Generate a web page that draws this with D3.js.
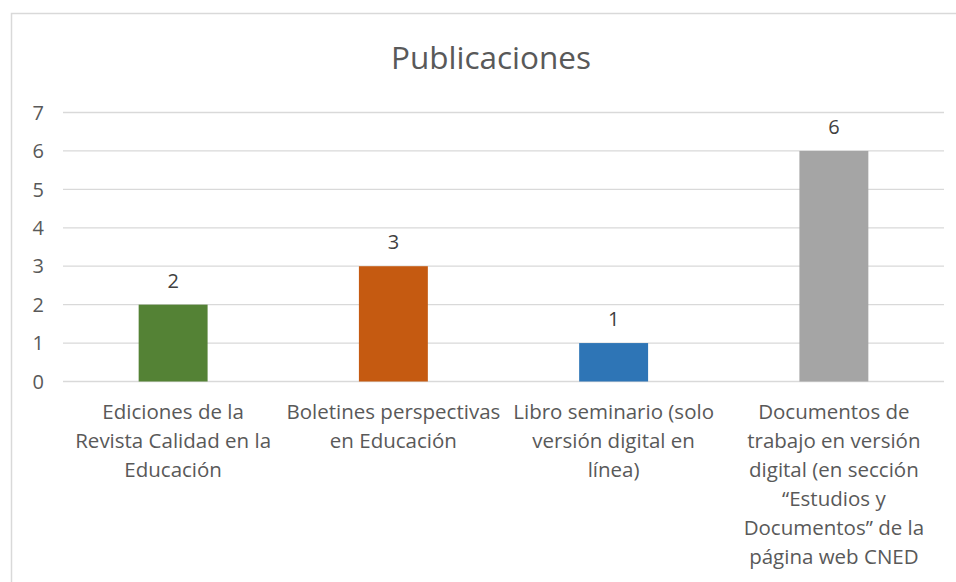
<!DOCTYPE html>
<html>
  <head>
    <meta charset="utf-8">
    <title>Publicaciones</title>
    <script type="text/javascript" src="https://d3js.org/d3.v7.min.js"></script>
    <style type="text/css">
      body { margin: 0; background: #fff; }
      text { font-family: "Open Sans", sans-serif; fill: #595959; }
    </style>
  </head>
  <body>
    <script type="text/javascript">
      // data
      var categories = [
        ["Ediciones de la", "Revista Calidad en la", "Educación"],
        ["Boletines perspectivas", "en Educación"],
        ["Libro seminario (solo", "versión digital en", "línea)"],
        ["Documentos de", "trabajo en versión", "digital (en sección", "\u201CEstudios y", "Documentos\u201D de la", "página web CNED"]
      ];
      var values = [2, 3, 1, 6];
      var colors = ["#548235", "#c55a11", "#2e75b6", "#a5a5a5"];
      var yTicks = [0, 1, 2, 3, 4, 5, 6, 7];

      var widthSVG = 956;
      var heightSVG = 582;
      var plotLeft = 63, plotRight = 944, plotTop = 112.5, plotBottom = 381.5;

      var svg = d3.select("body")
                  .append("svg")
                  .attr("width", widthSVG)
                  .attr("height", heightSVG);

      // chart border
      svg.append("rect")
         .attr("x", 11.5).attr("y", 13.5)
         .attr("width", 1000).attr("height", 700)
         .attr("fill", "none")
         .attr("stroke", "#d9d9d9")
         .attr("stroke-width", 1.5);

      var xScale = d3.scaleBand()
                     .domain(d3.range(categories.length))
                     .range([plotLeft, plotRight]);

      var yScale = d3.scaleLinear()
                     .domain([0, 7])
                     .range([plotBottom, plotTop]);

      // gridlines
      svg.append("g")
         .selectAll("line")
         .data(yTicks)
         .enter()
         .append("line")
         .attr("x1", plotLeft).attr("x2", plotRight)
         .attr("y1", function(d){ return yScale(d); })
         .attr("y2", function(d){ return yScale(d); })
         .attr("stroke", "#d9d9d9")
         .attr("stroke-width", 1.3);

      // y tick labels
      svg.append("g")
         .selectAll("text")
         .data(yTicks)
         .enter()
         .append("text")
         .attr("x", 44)
         .attr("y", function(d){ return yScale(d); })
         .attr("dy", "0.36em")
         .attr("text-anchor", "end")
         .style("font-size", "20px")
         .text(function(d){ return d; });

      var barW = xScale.bandwidth() * 0.313;

      // bars
      svg.selectAll("rect.bar")
         .data(values)
         .enter()
         .append("rect")
         .attr("class", "bar")
         .attr("x", function(d, i){ return xScale(i) + xScale.bandwidth() / 2 - barW / 2; })
         .attr("y", function(d){ return yScale(d); })
         .attr("width", barW)
         .attr("height", function(d){ return yScale(0) - yScale(d); })
         .attr("fill", function(d, i){ return colors[i]; });

      // value labels
      svg.selectAll("text.val")
         .data(values)
         .enter()
         .append("text")
         .attr("class", "val")
         .attr("x", function(d, i){ return xScale(i) + xScale.bandwidth() / 2; })
         .attr("y", function(d){ return yScale(d) - 17; })
         .attr("text-anchor", "middle")
         .style("font-size", "20px")
         .style("fill", "#404040")
         .text(function(d){ return d; });

      // category labels
      var lab = svg.selectAll("text.cat")
         .data(categories)
         .enter()
         .append("text")
         .attr("class", "cat")
         .attr("text-anchor", "middle")
         .style("font-size", "20.5px");

      lab.selectAll("tspan")
         .data(function(d, i){ return d.map(function(s){ return {s: s, i: i}; }); })
         .enter()
         .append("tspan")
         .attr("x", function(d){ return xScale(d.i) + xScale.bandwidth() / 2; })
         .attr("y", function(d, j){ return 419 + j * 29; })
         .text(function(d){ return d.s; });

      // title
      svg.append("text")
         .attr("x", 491)
         .attr("y", 69)
         .attr("text-anchor", "middle")
         .style("font-size", "31.5px")
         .text("Publicaciones");
    </script>
  </body>
</html>
